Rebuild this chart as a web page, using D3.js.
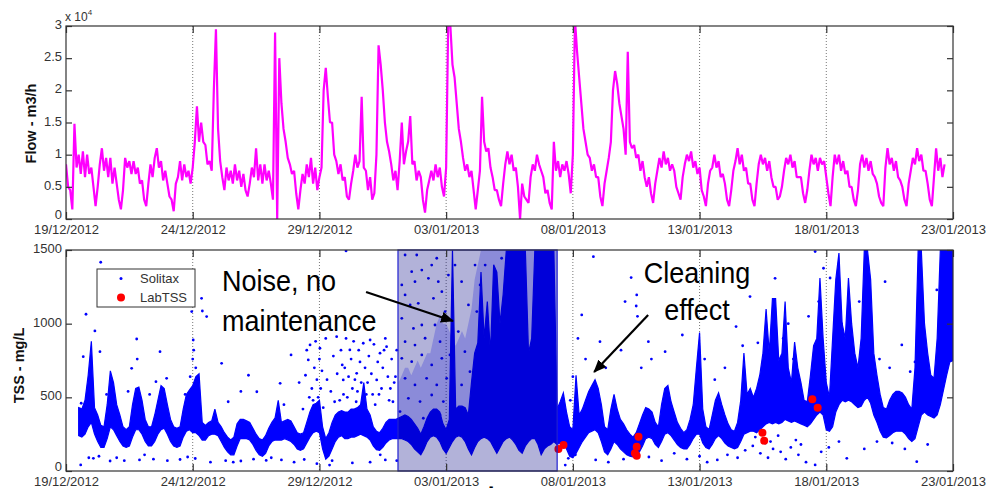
<!DOCTYPE html>
<html><head><meta charset="utf-8">
<script src="https://cdn.jsdelivr.net/npm/d3@7"></script>
<style>
html,body{margin:0;padding:0;background:#fff;}
svg{display:block;font-family:"Liberation Sans",Arial,sans-serif;}
</style></head><body>
<svg id="chart" width="994" height="494"></svg>
<script>
// ---------------- DATA ----------------
const startDay = "2012-12-19";
const endDay = "2013-01-23";
const tickDays = ["2012-12-19","2012-12-24","2012-12-29","2013-01-03","2013-01-08","2013-01-13","2013-01-18","2013-01-23"];
const flowTicks = [0,5,10,15,20,25,30];          // x1000 m3/h (labels in x10^4)
const tssTicks = [0,500,1000,1500];

// Flow (x1000 m3/h), one value every 2 hours from 19/12/2012 00:00
const flow = [
8.5,5.0,4.5,1.5,14.8,8.0,10.0,7.0,10.5,6.5,10.0,7.0,
8.0,5.0,2.0,5.0,8.5,11.0,7.5,9.5,6.5,9.5,5.5,8.0,
5.5,3.0,1.5,4.5,9.5,8.0,9.0,7.0,9.0,7.0,8.0,5.5,
6.0,3.0,2.0,5.5,8.5,6.5,9.5,11.0,8.0,9.0,6.0,7.5,
5.5,3.5,3.0,1.2,5.5,6.5,9.0,6.0,8.5,6.5,7.5,5.5,
8.0,12.0,17.5,12.0,15.0,12.0,11.5,8.5,9.0,7.5,20.0,29.5,
14.0,9.0,6.5,4.5,8.0,6.0,7.5,5.5,8.5,6.0,7.5,5.0,
7.0,4.5,3.5,5.5,8.0,6.5,11.0,6.0,8.5,5.5,8.5,6.0,
7.5,5.5,3.0,29.0,0.0,25.0,18.0,14.0,12.0,9.5,8.5,7.0,
7.5,4.0,1.5,4.5,7.0,5.5,8.5,6.5,9.5,5.5,8.0,4.5,
6.5,8.0,20.0,23.5,19.0,15.0,15.0,10.0,9.0,7.0,8.5,6.0,
6.5,3.5,3.0,5.5,7.5,10.0,8.0,9.0,19.0,8.0,7.5,4.5,
6.5,3.0,4.0,10.0,27.0,24.0,20.0,15.0,12.0,10.5,8.5,6.0,
7.5,4.5,9.0,15.0,8.5,10.5,12.0,16.0,8.5,9.0,6.0,7.5,
6.5,3.0,1.0,4.5,6.0,7.5,6.0,8.5,6.5,8.0,5.0,3.5,
8.0,31.0,30.0,24.0,22.0,18.0,14.0,12.0,9.5,7.5,8.5,6.5,
7.5,4.5,1.5,4.5,7.5,19.0,12.0,10.5,11.0,8.0,6.5,4.5,
4.5,3.0,2.0,5.5,8.5,10.5,8.5,10.0,7.5,8.0,5.0,0.0,
5.5,3.5,3.0,2.5,6.5,8.5,7.5,10.0,8.5,7.5,6.5,4.0,
4.5,2.5,1.5,12.0,7.5,9.0,6.5,8.5,7.5,9.0,7.0,4.0,
10.0,31.0,26.0,22.0,18.0,14.0,12.0,10.0,9.5,7.5,8.5,6.5,
6.5,3.5,2.0,5.5,7.5,9.5,12.0,20.0,23.0,21.0,18.0,16.0,
14.0,10.0,26.0,12.0,11.0,11.5,9.5,10.0,7.5,9.0,6.5,5.0,
6.5,4.0,2.5,5.5,7.5,9.5,8.0,10.5,8.5,9.5,7.5,8.5,
7.5,5.0,4.0,3.0,6.5,8.5,10.0,9.0,10.5,8.0,9.0,7.0,
8.0,4.5,3.5,2.0,5.5,7.5,8.0,10.0,8.0,9.0,6.5,7.0,
5.5,3.0,2.0,4.5,7.5,9.0,11.0,8.5,10.0,7.5,8.0,5.5,
5.5,3.0,2.0,5.5,8.5,10.0,8.5,9.5,7.5,9.0,6.5,5.0,
5.0,3.0,3.5,5.0,7.5,9.5,8.5,10.0,8.0,9.0,6.5,6.5,
6.5,4.0,2.5,4.5,7.5,10.0,8.5,9.5,7.5,9.5,8.5,9.0,
6.5,4.0,2.0,6.5,10.0,8.5,10.0,7.5,9.0,7.0,7.5,5.0,
5.0,3.0,2.0,4.5,8.5,10.0,8.0,9.5,7.5,9.0,7.0,6.5,
5.5,3.5,2.5,2.0,8.0,11.0,8.5,9.5,7.5,9.0,6.5,6.0,
5.0,3.0,2.0,5.5,7.5,9.5,8.5,11.0,9.0,10.0,7.5,7.5,
5.5,3.0,2.0,6.5,11.0,7.5,9.5,6.5,8.5
];

// Solitax TSS (mg/L) dense band: lower / upper edge, one value every 3 hours from 19/12/2012 00:00
const tssLow = [
null,null,null,null,240,230,250,300,
330,250,200,160,160,220,300,280,
240,200,170,160,170,230,280,280,
250,200,170,170,200,250,280,290,
250,200,170,160,170,230,270,280,
260,260,240,210,210,240,250,250,
240,200,160,130,110,110,170,220,
220,220,210,180,140,110,100,120,
170,200,210,210,210,220,210,200,
180,150,140,150,190,230,260,270,
260,150,80,100,150,200,230,240,
220,220,230,230,240,250,240,230,
210,170,145,140,160,190,210,220,
220,220,220,210,200,180,150,130,
110,150,200,230,240,230,200,150,
120,160,200,230,240,230,200,150,
110,160,200,220,230,220,200,160,
120,160,200,220,230,210,180,140,
120,170,200,220,220,180,110,150,
170,180,200,180,190,200,150,100,
90,120,160,200,230,260,270,280,
260,200,130,110,150,200,180,150,
130,110,100,95,100,130,170,220,
230,220,180,160,200,250,260,240,
210,180,160,150,150,180,220,250,
250,190,160,150,180,220,240,220,
190,170,160,150,160,200,250,260,
270,270,260,280,300,320,330,320,
330,320,330,350,340,330,340,330,
320,310,300,320,350,380,400,380,
280,270,300,400,450,480,470,480,
470,450,430,440,480,500,460,380,
330,270,230,225,240,260,270,270,
270,250,220,200,220,300,380,400,
380,370,360,380,450,550,650,740,
750
];
const tssHigh = [
null,null,null,null,430,420,480,650,
880,430,380,310,300,450,680,600,
450,380,300,280,300,450,560,570,
480,350,300,300,380,480,580,560,
450,350,300,290,300,420,520,550,
580,640,660,330,310,330,340,420,
330,300,260,230,210,230,320,350,
350,340,330,290,250,220,210,240,
290,330,360,480,330,340,350,340,
300,260,250,260,330,400,450,460,
480,300,220,260,330,380,400,410,
400,400,420,420,430,450,600,420,
380,300,270,260,290,330,350,350,
350,360,370,380,370,350,320,290,
250,300,360,400,420,420,400,320,
280,350,1500,420,440,440,430,380,
600,800,870,1350,900,1150,800,1400,
1350,1000,1200,1500,1500,1500,1500,1500,
1500,1500,800,900,1500,1500,1500,1500,
1500,1500,1500,420,470,530,400,300,
280,650,380,420,480,540,580,620,
560,450,300,280,420,520,420,350,
320,280,250,230,260,320,380,430,
420,400,330,300,450,560,580,470,
400,330,290,260,280,350,450,700,
940,420,300,280,380,480,530,450,
380,320,280,270,330,480,800,520,
560,500,560,650,800,1100,800,1170,
1170,750,800,1150,700,600,875,700,
600,480,470,650,850,900,1310,900,
600,500,900,1300,1480,1000,900,1310,
1000,800,700,900,1500,1500,1300,800,
650,520,430,420,480,520,540,540,
530,500,450,420,700,1500,1500,1000,
800,650,630,900,1500,1500,1500,1500,
1500
];
// medium-density noise cloud top during the no-maintenance period (3-hourly, starting at sample 105)
const hazeStartIndex = 105;
const hazeTop = [
600,650,700,700,650,700,750,700,750,800,800,
900,1000,1050,1000,1000,950,
900,850,900,950,900,1000,
1100,1300,1400,
1500,1500,1500,1500,1500,1500,1500,1500,1500,1500,1500,1500,1500,
1500,1500,1500,1500,1500,1500,1500,1500,1500,1500,1500,1500
];
// isolated Solitax points [days since 19/12/2012, mg/L]
const solitaxOutliers = [
[0.79,1064],[1.37,1417],[1.14,951],[1.34,810],[0.68,776],[0.55,420],[0.6,460],
[2.79,896],[2.59,697],[2.81,760],[2.45,540],[3.71,810],[3.55,606],[3.97,629],[3.3,520],
[4.96,1082],[5.38,1086],[5.35,1172],[5.55,1048],[5.02,889],[5.04,820],[5.0,760],[5.12,700],[4.9,640],
[6.14,731],[6.4,470],[6.9,540],[7.53,538],[7.2,650],[8.45,595],[8.88,788],[8.6,450],[9.2,600],
[9.56,754],[9.63,856],[10.02,833],[9.8,700],[9.9,620],[9.7,560],[10.0,760],[9.95,500],[10.1,680],[9.75,480],
[10.68,912],[11.2,822],[11.73,867],[12.0,889],[12.39,800],[12.65,844],[11.47,663],[10.94,618],[12.26,618],
[11.0,700],[11.3,560],[11.6,740],[11.9,600],[12.1,520],[12.5,700],[12.8,560],[13.0,640],[10.8,480],
[11.1,500],[11.5,540],[12.2,450],[12.9,470],[11.05,1494],
[9.35,420],[9.45,650],[9.6,500],[9.85,880],[10.05,560],[10.15,430],[10.3,620],[10.45,540],[10.55,780],
[10.7,660],[10.85,820],[10.95,520],[11.05,900],[11.15,640],[11.25,760],[11.35,880],[11.45,470],[11.55,820],
[11.65,600],[11.8,700],[11.85,520],[11.95,780],[12.05,660],[12.15,860],[12.3,740],[12.45,560],[12.55,820],
[12.7,640],[12.75,480],[12.85,760],[12.95,600],[13.05,820],[10.25,900],[10.6,470],[11.4,620],[12.35,520],
[11.75,440],[10.9,720],[12.6,900],[9.5,820],[1.6,520],[1.9,470],[2.7,480],[3.8,500],[4.7,520],[5.2,560],
[0.58,41],[1.08,86],[1.74,68],[2.3,70],[2.9,75],[3.45,80],[4.0,70],[4.5,78],[5.1,85],[5.7,60],[6.3,70],
[6.9,68],[7.4,80],[7.9,72],[8.5,75],[9.0,60],[9.4,78],[10.5,70],[11.3,55],[12.0,60],[12.6,75],[13.05,70],
[0.9,90],[1.3,100],[2.0,90],[3.1,110],[4.8,95],[6.6,60],[8.1,90],[9.9,50],[10.4,40],[12.4,110],
[13.38,1466],[13.84,1466],[14.63,1444],[14.04,1364],[13.77,1285],[14.3,1308],[14.69,1285],[13.38,1195],
[13.58,1127],[13.9,1138],[14.5,1172],[14.83,1217],[13.25,1036],[13.71,968],[14.04,991],[14.56,991],
[14.96,1082],[13.38,878],[13.77,855],[14.17,901],[14.76,878],[13.25,765],[13.64,742],[14.04,788],
[14.43,720],[14.83,765],[15.15,788],[13.38,629],[13.77,584],[14.23,629],[14.63,584],[15.02,629],
[13.51,493],[13.97,471],[14.43,516],[14.89,471],[15.35,1398],[15.61,1285],[15.88,1127],[15.48,946],
[15.74,810],[15.94,674],[15.61,584],[16.14,1398],[16.34,1263],[16.21,1082],[16.4,901],[16.54,1398],
[16.93,1353],[17.19,1444],[13.18,403],[14.1,358],[14.76,380],[15.22,448],[13.25,1263],[14.43,1398],
[15.09,1330],[13.64,1353],
[20.81,1455],[22.3,1313],[22.52,1195],[22.5,1120],[22.55,1050],[22.98,878],[22.06,1150],[20.35,1059],
[21.07,878],[20.0,640],[20.5,760],[21.3,700],[21.9,820],[22.7,700],[23.1,760],[19.9,480],[20.2,900],
[24.32,923],[23.64,810],[26.44,980],[26.99,1184],[27.98,1308],[25.2,760],[25.6,620],[26.0,700],
[26.7,850],[27.3,870],[27.6,760],[28.3,900],[28.5,1000],[28.7,760],[29.56,1489],[29.89,1376],
[30.15,1310],[29.7,1150],[29.3,1050],[30.6,1000],[31.3,1150],[32.32,1285],[32.5,700],[32.98,856],
[33.31,674],[33.5,740],[34.36,1229],[33.8,900],[31.8,840],[32.1,760],[30.9,700],
[19.82,86],[19.7,40],[20.1,110],[20.9,75],[21.4,60],[22.0,80],[23.0,95],[23.5,70],[24.0,120],[24.5,80],
[25.0,100],[25.3,60],[25.7,75],[26.1,110],[26.5,90],[26.8,140],[27.1,170],[27.4,120],[27.7,90],
[27.9,150],[28.2,130],[28.4,80],[28.6,160],[28.9,110],[29.2,60],[29.56,41],[29.8,130],[30.1,160],
[30.5,200],[30.81,86],[31.5,150],[32.0,200],[32.6,190],[33.1,150],[33.57,63],[34.0,180],
[27.2,230],[27.8,200],[28.1,240],[28.8,210],[29.0,180],[27.6,190]
];
// Lab TSS samples [days since 19/12/2012, mg/L]
const labTSS = [
[19.43,149],[19.63,177],[22.59,233],[22.52,165],[22.45,120],[22.52,104],
[27.48,260],[27.55,206],[29.45,487],[29.66,430]
];
// period without maintenance (days since start)
const shadeStartDay = 13.1, shadeEndDay = 19.38;

// ---------------- CHART ----------------
const DAY = 864e5, HOUR = 36e5;
const t0 = Date.parse(startDay + "T00:00:00Z");
const dayToDate = d => new Date(t0 + d * DAY);
const svg = d3.select("#chart");
const X0 = 66, X1 = 953;
const F_TOP = 26, F_BOT = 219, T_TOP = 250, T_BOT = 471;
const x = d3.scaleUtc().domain([new Date(startDay + "T00:00:00Z"), new Date(endDay + "T00:00:00Z")]).range([X0, X1]);
const yF = d3.scaleLinear().domain([0, 30]).range([F_BOT, F_TOP]);
const yT = d3.scaleLinear().domain([0, 1500]).range([T_BOT, T_TOP]);
const tickDates = tickDays.map(s => new Date(s + "T00:00:00Z"));
const fmt = d3.utcFormat("%d/%m/%Y");
const axisColor = "#333";

const defs = svg.append("defs");
defs.append("clipPath").attr("id", "clipF").append("rect").attr("x", X0).attr("y", F_TOP).attr("width", X1 - X0).attr("height", F_BOT - F_TOP);
defs.append("clipPath").attr("id", "clipT").append("rect").attr("x", X0).attr("y", T_TOP).attr("width", X1 - X0).attr("height", T_BOT - T_TOP);
defs.append("marker").attr("id", "arrow").attr("viewBox", "0 0 12 10").attr("refX", 11).attr("refY", 5)
  .attr("markerWidth", 13).attr("markerHeight", 11).attr("markerUnits", "userSpaceOnUse").attr("orient", "auto")
  .append("path").attr("d", "M0,0 L12,5 L0,10 z").attr("fill", "#000");

function grid(top, bottom) {
  svg.append("g").selectAll("line").data(tickDates.slice(1, -1)).join("line")
    .attr("x1", d => x(d)).attr("x2", d => x(d)).attr("y1", top).attr("y2", bottom)
    .attr("stroke", "#777").attr("stroke-width", 1).attr("stroke-dasharray", "1,2");
}
function axes(y, ticks, tfmt, top, bottom) {
  const style = g => {
    g.select(".domain").remove();
    g.selectAll(".tick line").attr("stroke", axisColor).attr("stroke-width", 1.2);
    g.selectAll("text").attr("fill", axisColor).attr("font-size", 13).attr("font-family", '"Liberation Sans",Arial,sans-serif');
  };
  svg.append("g").attr("transform", `translate(${X0},0)`).call(d3.axisLeft(y).tickValues(ticks).tickFormat(tfmt).tickSize(-6).tickPadding(4)).call(style)
    .selectAll("text").attr("dy", d => d === 0 ? "-0.05em" : "0.2em");
  svg.append("g").attr("transform", `translate(${X1},0)`).call(d3.axisRight(y).tickValues(ticks).tickFormat("").tickSize(-6)).call(style);
  svg.append("g").attr("transform", `translate(0,${bottom})`).call(d3.axisBottom(x).tickValues(tickDates).tickFormat(fmt).tickSize(-7).tickPadding(5.5)).call(style);
  svg.append("g").attr("transform", `translate(0,${top})`).call(d3.axisTop(x).tickValues(tickDates).tickFormat("").tickSize(-7)).call(style);
  svg.append("rect").attr("x", X0).attr("y", top).attr("width", X1 - X0).attr("height", bottom - top)
    .attr("fill", "none").attr("stroke", axisColor).attr("stroke-width", 1.2);
}

// ---- Flow panel ----
grid(F_TOP, F_BOT);
svg.append("path").datum(flow).attr("clip-path", "url(#clipF)")
  .attr("d", d3.line().x((d, i) => x(new Date(t0 + i * 2 * HOUR))).y(d => yF(d)))
  .attr("fill", "none").attr("stroke", "#ff00ff").attr("stroke-width", 2.2).attr("stroke-linejoin", "bevel");
axes(yF, flowTicks, d => d / 10, F_TOP, F_BOT);
const exp = svg.append("text").attr("x", 65).attr("y", 21).attr("font-size", 12).attr("fill", axisColor);
exp.append("tspan").text("x 10");
exp.append("tspan").attr("dy", -6).attr("font-size", 8).text("4");
svg.append("text").attr("transform", `translate(36,${(F_TOP + F_BOT) / 2 + 1}) rotate(-90)`)
  .attr("text-anchor", "middle").attr("font-size", 14.5).attr("font-weight", "bold").attr("fill", "#111").text("Flow - m3/h");

// ---- TSS panel ----
grid(T_TOP, T_BOT);
const gT = svg.append("g").attr("clip-path", "url(#clipT)");
const tssPts = tssLow.map((lo, i) => ({ t: new Date(t0 + i * 3 * HOUR), lo, hi: tssHigh[i] }));
const hazePts = hazeTop.map((v, k) => { const i = hazeStartIndex + k; return { t: new Date(t0 + i * 3 * HOUR), lo: tssLow[i], hi: v }; });
gT.append("path").datum(hazePts)
  .attr("d", d3.area().x(d => x(d.t)).y0(d => yT(d.lo)).y1(d => yT(d.hi)))
  .attr("fill", "#0000ff").attr("fill-opacity", 0.22);
gT.append("path").datum(tssPts)
  .attr("d", d3.area().defined(d => d.lo != null).x(d => x(d.t)).y0(d => yT(d.lo)).y1(d => yT(d.hi)))
  .attr("fill", "#0000ff").attr("stroke", "#0000ff").attr("stroke-width", 1.2);
gT.append("g").selectAll("circle").data(solitaxOutliers).join("circle")
  .attr("cx", d => x(dayToDate(d[0]))).attr("cy", d => yT(d[1])).attr("r", 1.4).attr("fill", "#0000ff");
// no-maintenance patch
svg.append("rect").attr("x", x(dayToDate(shadeStartDay))).attr("y", T_TOP)
  .attr("width", x(dayToDate(shadeEndDay)) - x(dayToDate(shadeStartDay))).attr("height", T_BOT - T_TOP)
  .attr("fill", "#000080").attr("fill-opacity", 0.3).attr("stroke", "#2020d0").attr("stroke-width", 1.2);
gT.append("g").selectAll("circle").data(labTSS).join("circle")
  .attr("cx", d => x(dayToDate(d[0]))).attr("cy", d => yT(d[1])).attr("r", 4).attr("fill", "#ff0000");
axes(yT, tssTicks, d => d, T_TOP, T_BOT);
svg.append("text").attr("transform", `translate(24,${(T_TOP + T_BOT) / 2 + 5}) rotate(-90)`)
  .attr("text-anchor", "middle").attr("font-size", 14.5).attr("font-weight", "bold").attr("fill", "#111").text("TSS - mg/L");
svg.append("text").attr("x", 489).attr("y", 491).attr("font-size", 13).attr("font-weight", "bold").attr("fill", "#000").text("-");

// legend
const lg = svg.append("g");
lg.append("rect").attr("x", 97).attr("y", 269).attr("width", 98).attr("height", 38).attr("fill", "#fff").attr("stroke", axisColor).attr("stroke-width", 1);
lg.append("circle").attr("cx", 121).attr("cy", 278.5).attr("r", 1.5).attr("fill", "#0000ff");
lg.append("circle").attr("cx", 121).attr("cy", 297.5).attr("r", 4).attr("fill", "#ff0000");
lg.append("text").attr("x", 140).attr("y", 283).attr("font-size", 13).attr("fill", axisColor).text("Solitax");
lg.append("text").attr("x", 140).attr("y", 302).attr("font-size", 13).attr("fill", axisColor).text("LabTSS");

// annotations
function bigText(day, val, str, anchor) {
  svg.append("text").attr("transform", `translate(${x(dayToDate(day))},${yT(val)}) scale(0.9,1)`)
    .attr("text-anchor", anchor).attr("font-size", 30).attr("fill", "#000").text(str);
}
bigText(6.16, 1222, "Noise, no", "start");
bigText(6.16, 950, "maintenance", "start");
bigText(24.9, 1276, "Cleaning", "middle");
bigText(24.9, 1025, "effect", "middle");
function arrow(d1, v1, d2, v2) {
  svg.append("line").attr("x1", x(dayToDate(d1))).attr("y1", yT(v1)).attr("x2", x(dayToDate(d2))).attr("y2", yT(v2))
    .attr("stroke", "#000").attr("stroke-width", 2.2).attr("marker-end", "url(#arrow)");
}
arrow(11.84, 1215, 15.27, 1018);
arrow(22.97, 1059, 20.84, 672);
</script>
</body></html>
